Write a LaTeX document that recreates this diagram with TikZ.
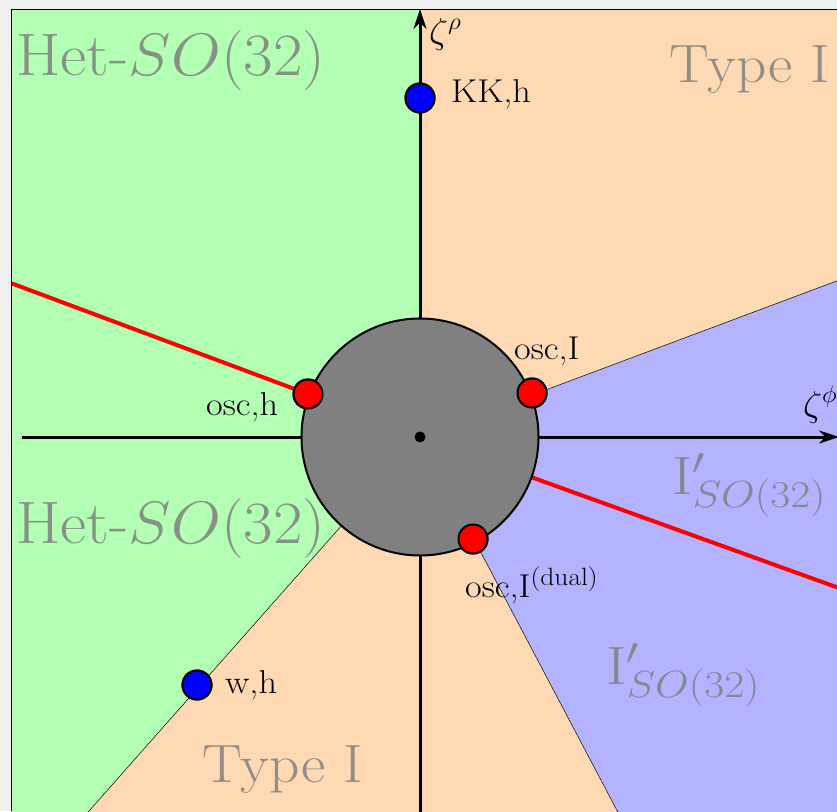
\RequirePackage{fix-cm}
\documentclass[tikz,border=0pt]{standalone}
\usetikzlibrary{arrows.meta}
\definecolor{bgmargin}{RGB}{240,240,240}
\definecolor{hetgreen}{RGB}{179,255,179}
\definecolor{typeorange}{RGB}{255,217,179}
\definecolor{ipblue}{RGB}{179,179,255}
\definecolor{labelgray}{RGB}{128,128,128}
\definecolor{discgray}{RGB}{128,128,128}
\DeclareMathSizes{33}{33}{25}{18}
\DeclareMathSizes{36}{36}{24}{18}
\newcommand{\mywide}[2][1.1]{\scalebox{#1}[1]{#2}}
\begin{document}
\begin{tikzpicture}[x=1pt,y=-1pt,
  thinline/.style={draw=black,line width=0.5pt},
  redline/.style={draw=red,line width=4pt},
  axisline/.style={draw=black,line width=3pt},
  axisarrow/.style={axisline,-{Stealth[length=20pt,width=13pt]}},
  dotnode/.style={circle,draw=black,line width=2pt,minimum size=29pt,inner sep=0pt},
  reddot/.style={dotnode,fill=red},
  bluedot/.style={dotnode,fill=blue},
  biglabel/.style={text=labelgray,text opacity=0.85,inner sep=0pt,anchor=base west,font=\fontsize{60}{70}\selectfont},
  midlabel/.style={text=labelgray,text opacity=0.85,inner sep=0pt,anchor=base west,font=\fontsize{54}{64}\selectfont},
  smalllabel/.style={text=black,inner sep=0pt,anchor=base west,font=\fontsize{33}{40}\selectfont},
  axislabel/.style={text=black,inner sep=0pt,anchor=base west,font=\fontsize{36}{42}\selectfont}
]
\fill[bgmargin] (0,0) rectangle (837,811);
\useasboundingbox (0,0) rectangle (837,811);
\begin{scope}
\clip (11,9) rectangle (837,811);
\coordinate (C) at (420,437);
% regions
\fill[hetgreen] (C) -- (420,0) -- (0,0) -- (0,820) -- (81,820) -- cycle;
\fill[typeorange] (C) -- (420,0) -- (850,0) -- (850,276) -- cycle;
\fill[ipblue] (C) -- (850,276) -- (850,820) -- (622,820) -- cycle;
\fill[typeorange] (C) -- (622,820) -- (81,820) -- cycle;
% disc node (drawn later, defined here for connectors)
\node[circle,minimum size=237pt,inner sep=0pt] (disc) at (C) {};
\coordinate (bUR) at (850,276);
\coordinate (bLR) at (622,820);
\coordinate (bLL) at (81,820);
\draw[thinline] (disc.center) -- (bUR);
\draw[thinline] (disc.center) -- (bLR);
\draw[thinline] (disc.center) -- (bLL);
% dots positions
\node[reddot] (oh) at (308,394) {};
\node[reddot] (oI) at (532,393) {};
\node[reddot] (oId) at (473,539) {};
\node[bluedot] (kk) at (420,98) {};
\node[bluedot] (wh) at (197,685) {};
% red lines
\coordinate (rUL) at (0,279);
\coordinate (rLR) at (850,592);
\draw[redline] (rUL) -- (oh.center);
\draw[redline] (disc.center) -- (rLR);
% axes
\coordinate (axT) at (420,9);
\coordinate (axB) at (420,820);
\coordinate (axL) at (22,437);
\coordinate (axR) at (839,437);
\draw[axisarrow] (disc) -- (axT);
\draw[axisline] (disc) -- (axB);
\draw[axisline] (disc) -- (axL);
\draw[axisarrow] (disc) -- (axR);
% disc
\node[circle,draw=black,fill=discgray,line width=2pt,minimum size=237pt,inner sep=0pt] (discdraw) at (C) {};
\node[circle,fill=black,minimum size=11pt,inner sep=0pt] (ctr) at (C) {};
% dots on top
\node[reddot] at (oh.center) {};
\node[reddot] at (oI.center) {};
\node[reddot] at (oId.center) {};
\node[bluedot] at (kk.center) {};
\node[bluedot] at (wh.center) {};
% region labels
\node[biglabel] (het1) at (16,75) {\mywide[1.07]{Het-$SO(32)$}};
\node[biglabel] (het2) at (16,543) {\mywide[1.07]{Het-$SO(32)$}};
\node[midlabel] (ty1) at (669,82) {\mywide{Type I}};
\node[midlabel] (ty2) at (202,782) {\mywide{Type I}};
\node[midlabel] (ip1) at (672,494) {\mywide[1.15]{$\mathrm{I}'_{SO(32)}$}};
\node[midlabel] (ip2) at (606,684) {\mywide[1.15]{$\mathrm{I}'_{SO(32)}$}};
% point labels
\node[smalllabel] (lkk) at (451,102) {\mywide{KK,h}};
\node[smalllabel] (loh) at (206,415) {\mywide{osc,h}};
\node[smalllabel] (loI) at (514,359) {\mywide{osc,I}};
\node[smalllabel] (loId) at (465,597) {\mywide{osc,I$^{(\mathrm{dual})}$}};
\node[smalllabel] (lwh) at (225,693) {\mywide{w,h}};
\node[axislabel] (zr) at (429,43) {\mywide[1.05]{$\zeta^\rho$}};
\node[axislabel] (zp) at (803,416) {\mywide[1.05]{$\zeta^\phi$}};
\end{scope}
\draw[black,line width=1pt] (11.5,811) -- (11.5,9.5) -- (837,9.5);
\end{tikzpicture}
\end{document}
